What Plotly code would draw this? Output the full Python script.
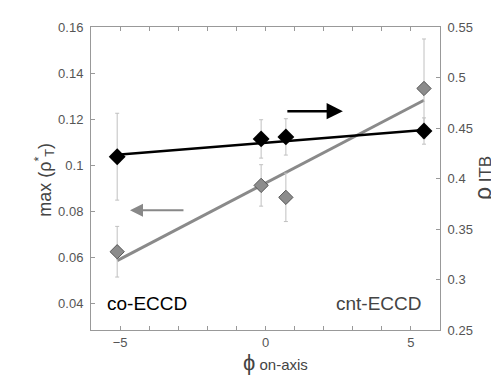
import plotly.graph_objects as go

# ---- data ----
phi = [-5.1, -0.15, 0.7, 5.45]              # phi on-axis
rho_itb = [0.4216, 0.4392, 0.4412, 0.447]   # right axis (black)
rho_itb_err = [0.043, 0.019, 0.018, 0.013]
max_rho_t = [0.0624, 0.0912, 0.086, 0.1333]  # left axis (gray)
max_rho_t_err = [0.011, 0.009, 0.0105, 0.0215]

fit_x = [-5.1, 5.45]
fit_rho_itb = [0.4235, 0.448]
fit_max_rho_t = [0.0585, 0.1282]

left_ticks = [0.04, 0.06, 0.08, 0.1, 0.12, 0.14, 0.16]
left_text = ["0.04", "0.06", "0.08", "0.1", "0.12", "0.14", "0.16"]
right_ticks = [0.25, 0.3, 0.35, 0.4, 0.45, 0.5, 0.55]
right_text = ["0.25", "0.3", "0.35", "0.4", "0.45", "0.5", "0.55"]
x_ticks = [-5, 0, 5]

FONT = "Liberation Sans, Arial, sans-serif"

fig = go.Figure()

# gray series (left axis)
fig.add_trace(go.Scatter(x=fit_x, y=fit_max_rho_t, mode="lines",
                         line=dict(color="#8a8a8a", width=3), yaxis="y", showlegend=False))
fig.add_trace(go.Scatter(x=phi, y=max_rho_t, mode="markers",
                         marker=dict(symbol="diamond", size=11, color="#8c8c8c",
                                     line=dict(color="#555", width=1)),
                         error_y=dict(type="data", array=max_rho_t_err, color="#c0c0c0",
                                      thickness=1, width=2),
                         yaxis="y", showlegend=False))
# black series (right axis)
fig.add_trace(go.Scatter(x=fit_x, y=fit_rho_itb, mode="lines",
                         line=dict(color="black", width=2.5), yaxis="y2", showlegend=False))
fig.add_trace(go.Scatter(x=phi, y=rho_itb, mode="markers",
                         marker=dict(symbol="diamond", size=13, color="black"),
                         error_y=dict(type="data", array=rho_itb_err, color="#c0c0c0",
                                      thickness=1, width=2),
                         yaxis="y2", showlegend=False))

axis_common = dict(showline=True, linecolor="#999", linewidth=1, ticks="inside",
                   ticklen=4, tickcolor="#999", showgrid=False, zeroline=False,
                   tickfont=dict(family=FONT, size=13, color="#555"))

fig.update_layout(
    width=499, height=376,
    margin=dict(l=83, r=67, t=16, b=54),
    paper_bgcolor="white", plot_bgcolor="white",
    xaxis=dict(range=[-6, 6], tickvals=x_ticks, mirror="ticks",
               minor=dict(dtick=1, ticks="inside", ticklen=4, tickcolor="#999"),
               **axis_common),
    yaxis=dict(range=[0.0284, 0.16], tickvals=left_ticks, ticktext=left_text,
               ticklabelstandoff=4, **axis_common),
    yaxis2=dict(range=[0.25, 0.55], tickvals=right_ticks, ticktext=right_text,
                overlaying="y", side="right", ticklabelstandoff=4, **axis_common),
)

annotations = [
    dict(text="max (ρ<sup>*</sup><sub>T</sub>)", xref="paper", yref="paper",
         x=-0.175, y=0.497, textangle=-90, showarrow=False,
         font=dict(family=FONT, size=18, color="#444")),
    dict(text="<span style='font-size:23px'>ρ</span> ITB", xref="paper", yref="paper",
         x=1.165, y=0.5, textangle=-90, showarrow=False,
         font=dict(family=FONT, size=17, color="#444")),
    dict(text="<span style='font-size:22px'>ϕ</span> on-axis", xref="paper", yref="paper",
         x=0.53, y=-0.108, yanchor="middle", showarrow=False,
         font=dict(family=FONT, size=15, color="#444")),
    dict(text="co-ECCD", xref="paper", yref="paper", x=0.04, y=0.088,
         xanchor="left", yanchor="middle", showarrow=False,
         font=dict(family=FONT, size=19, color="black")),
    dict(text="cnt-ECCD", xref="paper", yref="paper", x=0.953, y=0.088,
         xanchor="right", yanchor="middle", showarrow=False,
         font=dict(family=FONT, size=19, color="#444")),
    # black arrow pointing right (-> right axis)
    dict(x=2.66, y=0.4667, xref="x", yref="y2", ax=-57, ay=0, text="",
         showarrow=True, arrowhead=2, arrowsize=1.3, arrowwidth=2.5, arrowcolor="black"),
    # gray arrow pointing left (-> left axis)
    dict(x=-4.66, y=0.0804, xref="x", yref="y", ax=55, ay=0, text="",
         showarrow=True, arrowhead=2, arrowsize=1.3, arrowwidth=2, arrowcolor="#888"),
]
fig.update_layout(annotations=annotations)

fig.write_html("out.html")
